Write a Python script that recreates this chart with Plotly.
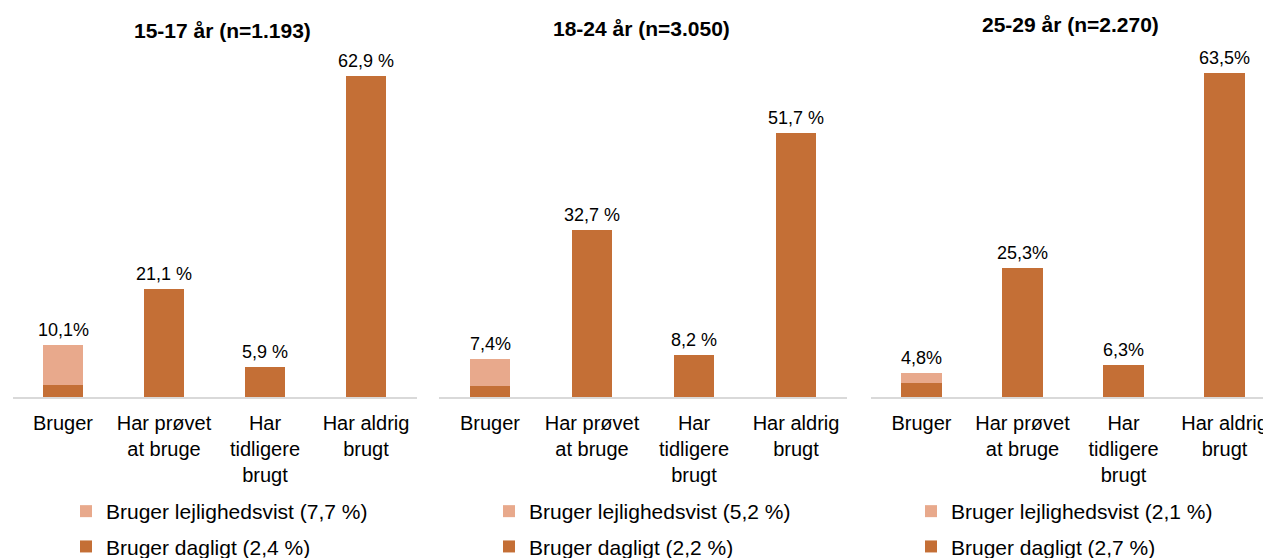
import plotly.graph_objects as go

# ---- data ----
categories = ["Bruger", "Har prøvet<br>at bruge", "Har<br>tidligere<br>brugt", "Har aldrig<br>brugt"]
panel_titles = ["15-17 år (n=1.193)", "18-24 år (n=3.050)", "25-29 år (n=2.270)"]

dagligt_1517 = [2.4, 21.1, 5.9, 62.9]
lejl_1517 = [7.7, None, None, None]
labels_1517 = ["10,1%", "21,1 %", "5,9 %", "62,9 %"]
legend_1517 = ["Bruger lejlighedsvist (7,7 %)", "Bruger dagligt (2,4 %)"]

dagligt_1824 = [2.2, 32.7, 8.2, 51.7]
lejl_1824 = [5.2, None, None, None]
labels_1824 = ["7,4%", "32,7 %", "8,2 %", "51,7 %"]
legend_1824 = ["Bruger lejlighedsvist (5,2 %)", "Bruger dagligt (2,2 %)"]

dagligt_2529 = [2.7, 25.3, 6.3, 63.5]
lejl_2529 = [2.1, None, None, None]
labels_2529 = ["4,8%", "25,3%", "6,3%", "63,5%"]
legend_2529 = ["Bruger lejlighedsvist (2,1 %)", "Bruger dagligt (2,7 %)"]

# ---- style ----
PAGE_W, PAGE_H = 1271, 558
OFF = 8  # default page body margin
W, H = PAGE_W - OFF, PAGE_H - OFF
FONT = "Liberation Sans, Arial, sans-serif"
C_LIGHT = "#E8A98C"
C_DARK = "#C46F36"
AXIS_COLOR = "#D9D9D9"

def px_x(p):  # page pixel -> paper fraction
    return (p - OFF) / W

def px_y(p):
    return (H - (p - OFF)) / H

panels = [
    dict(dag=dagligt_1517, lej=lejl_1517, lab=labels_1517, leg=legend_1517,
         dom=[px_x(12.5), px_x(416.5)], rng=[-0.5, 3.5], title_x=222, title_y=30, leg_x=66),
    dict(dag=dagligt_1824, lej=lejl_1824, lab=labels_1824, leg=legend_1824,
         dom=[px_x(439), px_x(847)], rng=[-0.5, 3.5], title_x=641, title_y=28, leg_x=489),
    dict(dag=dagligt_2529, lej=lejl_2529, lab=labels_2529, leg=legend_2529,
         dom=[px_x(871), 1.0], rng=[-0.5, 3.46], title_x=1070, title_y=25, leg_x=911),
]

Y_MAX = 66
y_dom = [px_y(397), px_y(397 - Y_MAX * 5.1)]

fig = go.Figure()
annotations = []
layout_axes = {}

for i, p in enumerate(panels):
    n = "" if i == 0 else str(i + 1)
    xa, ya = "x" + n, "y" + n
    leg = "legend" + n
    fig.add_trace(go.Bar(
        x=categories, y=p["dag"], name=p["leg"][1], marker=dict(color=C_DARK, line=dict(width=0)),
        xaxis=xa, yaxis=ya, legend=leg, legendgroup="d" + n, legendrank=2, hoverinfo="skip",
    ))
    fig.add_trace(go.Bar(
        x=categories, y=p["lej"], name=p["leg"][0], marker=dict(color=C_LIGHT, line=dict(width=0)),
        xaxis=xa, yaxis=ya, legend=leg, legendgroup="l" + n, legendrank=1, hoverinfo="skip",
    ))
    # value labels above bar totals
    for cat, d, l, txt in zip(categories, p["dag"], p["lej"], p["lab"]):
        total = d + (l or 0)
        annotations.append(dict(
            x=cat, y=total, xref=xa, yref=ya, text=txt, showarrow=False,
            yanchor="bottom", yshift=3, font=dict(family=FONT, size=18, color="#000000"),
        ))
    # panel title
    annotations.append(dict(
        x=px_x(p["title_x"]), y=px_y(p["title_y"]), xref="paper", yref="paper",
        text="<b>" + panel_titles[i] + "</b>", showarrow=False, xanchor="center", yanchor="middle",
        font=dict(family=FONT, size=21, color="#000000"),
    ))
    layout_axes["xaxis" + n] = dict(
        domain=p["dom"], range=p["rng"], type="category", showline=True, linecolor=AXIS_COLOR,
        linewidth=1.5, showgrid=False, zeroline=False, ticks="", ticklabelstandoff=7,
        tickfont=dict(family=FONT, size=20, color="#000000"), anchor=ya, fixedrange=True,
        automargin=False,
    )
    layout_axes["yaxis" + n] = dict(
        domain=y_dom, range=[0, Y_MAX], visible=False, anchor=xa, fixedrange=True,
    )
    layout_axes[leg] = dict(
        x=px_x(p["leg_x"]), y=px_y(491), xref="paper", yref="paper", xanchor="left", yanchor="top",
        orientation="v", traceorder="grouped", tracegroupgap=5, bgcolor="rgba(0,0,0,0)",
        font=dict(family=FONT, size=21, color="#000000"),
    )

fig.update_layout(
    width=W, height=H, margin=dict(l=0, r=0, t=0, b=0, autoexpand=False),
    paper_bgcolor="white", plot_bgcolor="white",
    barmode="stack", bargap=0.6, showlegend=True,
    annotations=annotations, **layout_axes,
)

fig.write_html("out.html")
